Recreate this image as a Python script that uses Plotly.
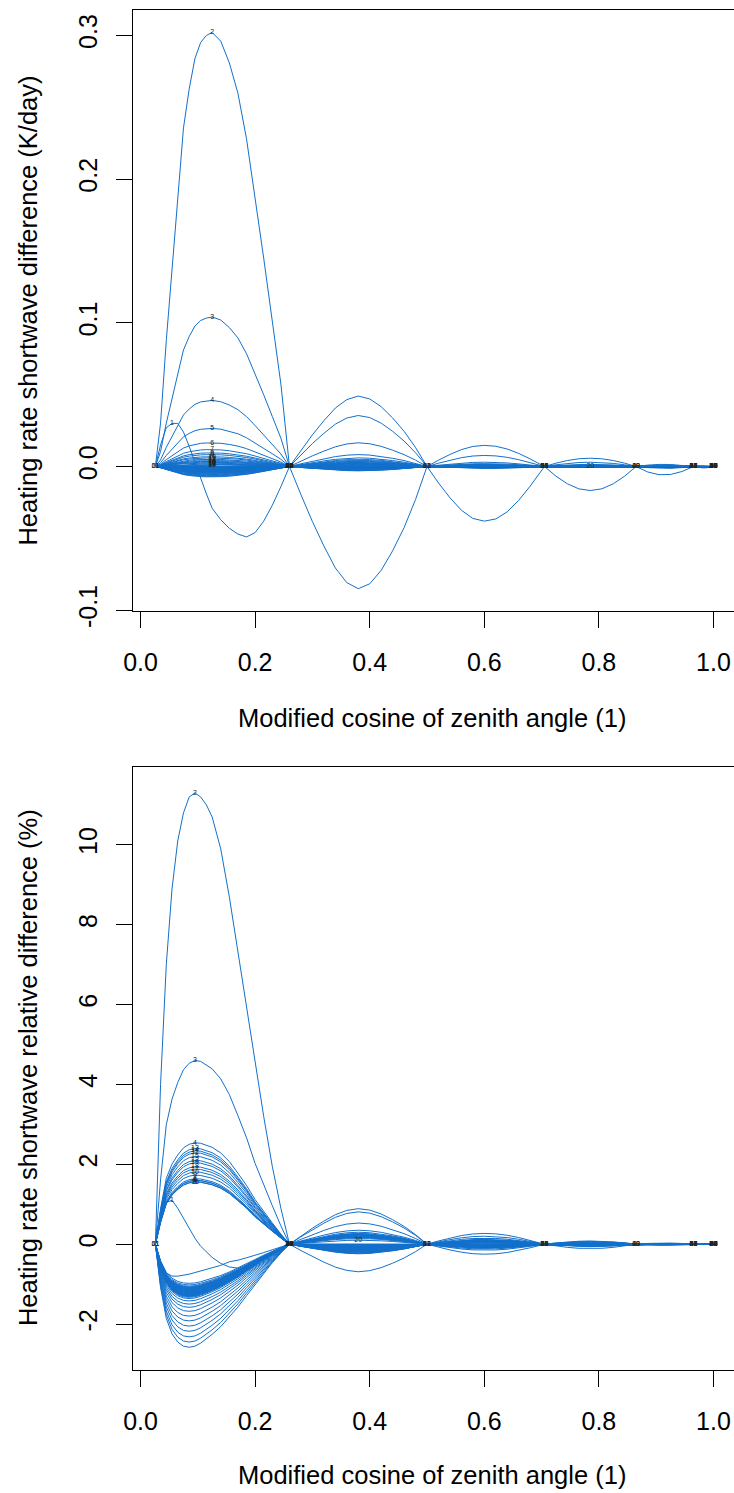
import plotly.graph_objects as go

# ---------------- data ----------------
# sampling of the modified cosine of zenith angle, per interval between nodes
SEG_X = [
    [0.026, 0.035, 0.045, 0.055, 0.065, 0.075, 0.085, 0.095, 0.105, 0.115,
     0.125, 0.14, 0.155, 0.17, 0.185, 0.2, 0.215, 0.23, 0.245, 0.26],
    [0.28, 0.30, 0.32, 0.34, 0.36, 0.38, 0.40, 0.42, 0.44, 0.46, 0.48, 0.5],
    [0.52, 0.54, 0.56, 0.58, 0.60, 0.62, 0.64, 0.66, 0.68, 0.705],
    [0.725, 0.745, 0.765, 0.785, 0.805, 0.825, 0.845, 0.865],
    [0.885, 0.905, 0.925, 0.945, 0.965],
    [0.975, 0.9825, 0.99, 1.0],
]
NODE_X = [0.026, 0.26, 0.5, 0.705, 0.865, 0.965, 1.0]

# normalised arc shapes in each interval
SHAPE_TOP_1 = [0, 0.10, 0.29, 0.46, 0.63, 0.78, 0.87, 0.94, 0.977, 0.993,
               1.0, 0.98, 0.93, 0.86, 0.755, 0.62, 0.48, 0.335, 0.19, 0]
SHAPE_BOT_1_POS = [0, 0.35, 0.65, 0.79, 0.88, 0.95, 0.985, 1.0, 0.995, 0.975,
                   0.955, 0.9, 0.815, 0.7, 0.58, 0.44, 0.32, 0.21, 0.1, 0]
SHAPE_BOT_1_NEG = [0, 0.42, 0.72, 0.87, 0.95, 0.99, 1.0, 0.99, 0.96, 0.92,
                   0.875, 0.8, 0.71, 0.61, 0.5, 0.39, 0.28, 0.18, 0.085, 0]
SHAPE_2 = [0.23, 0.45, 0.65, 0.83, 0.95, 1.0, 0.96, 0.85, 0.69, 0.5, 0.27, 0]
SHAPE_3 = [0.3, 0.57, 0.8, 0.95, 1.0, 0.96, 0.83, 0.62, 0.36, 0]
SHAPE_4 = [0.4, 0.72, 0.93, 1.0, 0.93, 0.72, 0.4, 0]
SHAPE_5 = [0.65, 0.98, 0.95, 0.6, 0]
SHAPE_6 = [0.8, 1.0, 0.75, 0]

CURVE_IDS = list(range(1, 62))

# curves drawn point by point in the first interval
TOP_C1_SEG1 = [0, 0.015, 0.027, 0.030, 0.030, 0.024, 0.014, 0.003, -0.009, -0.019,
               -0.029, -0.037, -0.043, -0.047, -0.049, -0.046, -0.038, -0.027, -0.014, 0]
BOT_C1_SEG1 = [0, 0.6, 1.05, 1.1, 0.9, 0.65, 0.4, 0.15, -0.05, -0.2,
               -0.33, -0.48, -0.57, -0.6, -0.58, -0.5, -0.38, -0.25, -0.12, 0]
BOT_C2_SEG1 = [0, 4.0, 7.0, 8.9, 10.1, 10.8, 11.2, 11.3, 11.2, 11.0,
               10.7, 9.9, 8.7, 7.3, 6.0, 4.6, 3.2, 1.95, 0.9, 0]
BOT_C20_SEG1 = [0, -0.45, -0.72, -0.8, -0.8, -0.78, -0.75, -0.71, -0.67, -0.63,
                -0.59, -0.53, -0.44, -0.4, -0.34, -0.28, -0.21, -0.14, -0.07, 0]

# extreme value of every curve in each interval (K/day), curves 1..61
TOP_AMP_1 = [None, 0.302, 0.104, 0.046, 0.0265, 0.0165, 0.0118, 0.0095, 0.0083, 0.0068,
             0.006, 0.005, 0.0042, 0.0036, 0.003, 0.0024, 0.0019, 0.0014, 0.001, -0.0005,
             -0.0072, -0.0068, -0.0064, -0.006, -0.0056, -0.0052, -0.0048, -0.0045, -0.0042, -0.004,
             -0.0038, -0.0036, -0.0034, -0.0032, -0.003, -0.0028, -0.0026, -0.0024, -0.0022, -0.002,
             -0.0019, -0.0018, -0.0017, -0.0016, -0.0015, -0.0014, -0.0013, -0.0012, -0.0011, -0.001,
             -0.0009, -0.0008, -0.0007, -0.0006, -0.0005, -0.0004, -0.0003, -0.0003, -0.0002, -0.0002,
             -0.0001]
TOP_AMP_2 = [-0.085, 0.049, 0.0355, 0.0165, 0.0083, 0.006, 0.005, 0.0043, 0.0037, 0.0032,
             0.0028, 0.0025, 0.0022, 0.002, 0.0018, 0.0015, 0.0012, 0.001, 0.0008, 0.0,
             -0.003, -0.0028, -0.0026, -0.0024, -0.0022, -0.002, -0.0019, -0.0018, -0.0017, -0.0016,
             -0.0015, -0.0014, -0.0013, -0.0012, -0.0011, -0.001, -0.0009, -0.0008, -0.0007, -0.0006,
             -0.0005, -0.0005, -0.0004, -0.0004, -0.0003, -0.0003, -0.0003, -0.0002, -0.0002, -0.0002,
             -0.0001, -0.0001, -0.0001, -0.0001, 0.0, 0.0, 0.0, 0.0, 0.0, 0.0,
             0.0]
TOP_AMP_3 = [-0.038, 0.0147, 0.0077, 0.003, 0.002, 0.0015, 0.0013, 0.0011, 0.001, 0.0009,
             0.0008, 0.0007, 0.0006, 0.0005, 0.0004, 0.0004, 0.0003, 0.0003, 0.0002, 0.0,
             -0.0012, -0.0011, -0.001, -0.0009, -0.0008, -0.0008, -0.0007, -0.0007, -0.0006, -0.0006,
             -0.0006, -0.0005, -0.0005, -0.0005, -0.0005, -0.0004, -0.0004, -0.0004, -0.0004, -0.0004,
             -0.0003, -0.0003, -0.0003, -0.0003, -0.0003, -0.0003, -0.0002, -0.0002, -0.0002, -0.0002,
             -0.0002, -0.0002, -0.0001, -0.0001, -0.0001, -0.0001, -0.0001, 0.0, 0.0, 0.0,
             0.0]
TOP_AMP_4 = [-0.0167, 0.0058, 0.003, 0.0015, 0.001, 0.0008, 0.0007, 0.0006, 0.0005, 0.0005,
             0.0004, 0.0004, 0.0003, 0.0003, 0.0002, 0.0002, 0.0002, 0.0001, 0.0001, 0.0003,
             -0.0006, -0.0005, -0.0005, -0.0004, -0.0004, -0.0003, -0.0003, -0.0003, -0.0002, -0.0002,
             -0.0002, -0.0002, -0.0002, -0.0002, -0.0001, -0.0001, -0.0001, -0.0001, -0.0001, -0.0001,
             -0.0001, -0.0001, -0.0001, -0.0001, -0.0001, -0.0001, 0.0, 0.0, 0.0, 0.0,
             0.0, 0.0, 0.0, 0.0, 0.0, 0.0, 0.0, 0.0, 0.0, 0.0,
             0.0]
TOP_AMP_5 = [-0.0058, 0.0015, 0.001, 0.0006, 0.0004, 0.0004, 0.0003, 0.0003, 0.0003, 0.0002,
             0.0002, 0.0002, 0.0002, 0.0001, 0.0001, 0.0001, 0.0001, 0.0001, 0.0001, 0.0001,
             -0.0012, -0.001, -0.0009, -0.0008, -0.0007, -0.0006, -0.0005, -0.0005, -0.0004, -0.0004,
             -0.0003, -0.0003, -0.0003, -0.0002, -0.0002, -0.0002, -0.0001, -0.0001, -0.0001, -0.0001,
             -0.0001, -0.0001, 0.0, 0.0, 0.0, 0.0, 0.0, 0.0, 0.0, 0.0,
             0.0, 0.0, 0.0, 0.0, 0.0, 0.0, 0.0, 0.0, 0.0, 0.0,
             0.0]
TOP_AMP_6 = [-0.001, 0.0004, 0.0002, 0.0001, 0.0, 0.0, 0.0, 0.0, 0.0, 0.0,
             0.0, 0.0, 0.0, 0.0, 0.0, 0.0, 0.0, 0.0, 0.0, 0.0,
             -0.0002, -0.0002, -0.0001, -0.0001, -0.0001, 0.0, 0.0, 0.0, 0.0, 0.0,
             0.0, 0.0, 0.0, 0.0, 0.0, 0.0, 0.0, 0.0, 0.0, 0.0,
             0.0, 0.0, 0.0, 0.0, 0.0, 0.0, 0.0, 0.0, 0.0, 0.0,
             0.0, 0.0, 0.0, 0.0, 0.0, 0.0, 0.0, 0.0, 0.0, 0.0,
             0.0]

# extreme value of every curve in each interval (%), curves 1..61
BOT_AMP_1 = [None, None, 4.6, 2.54, 1.56, 1.6, 1.64, 1.6, 1.73, 1.81,
             2.29, 2.1, 2.4, 2.34, 2.2, 1.56, 1.88, 1.94, 2.04, None,
             -2.58, -2.45, -2.32, -2.18, -2.05, -1.92, -1.8, -1.68, -1.58, -1.5,
             -1.42, -1.36, -1.33, -1.31, -1.3, -1.29, -1.28, -1.27, -1.26, -1.25,
             -1.24, -1.23, -1.22, -1.21, -1.2, -1.19, -1.18, -1.17, -1.16, -1.15,
             -1.14, -1.13, -1.12, -1.11, -1.1, -1.09, -1.08, -1.07, -1.05, -1.02,
             -0.98]
BOT_AMP_2 = [-0.69, 0.89, 0.81, 0.53, 0.35, 0.3, 0.27, 0.26, 0.25, 0.24,
             0.23, 0.22, 0.21, 0.2, 0.19, 0.18, 0.17, 0.16, 0.14, 0.1,
             -0.24, -0.23, -0.22, -0.21, -0.2, -0.2, -0.19, -0.19, -0.18, -0.18,
             -0.17, -0.17, -0.16, -0.16, -0.15, -0.15, -0.14, -0.14, -0.13, -0.13,
             -0.12, -0.12, -0.11, -0.11, -0.1, -0.1, -0.09, -0.09, -0.08, -0.08,
             -0.07, -0.07, -0.06, -0.05, -0.04, -0.03, -0.02, -0.02, -0.01, -0.01,
             0.0]
BOT_AMP_3 = [-0.25, 0.27, 0.2, 0.15, 0.12, 0.11, 0.1, 0.1, 0.09, 0.09,
             0.08, 0.08, 0.07, 0.07, 0.06, 0.06, 0.05, 0.05, 0.04, 0.03,
             -0.15, -0.12, -0.1, -0.09, -0.08, -0.08, -0.07, -0.07, -0.06, -0.06,
             -0.06, -0.05, -0.05, -0.05, -0.05, -0.04, -0.04, -0.04, -0.04, -0.04,
             -0.03, -0.03, -0.03, -0.03, -0.03, -0.03, -0.02, -0.02, -0.02, -0.02,
             -0.02, -0.02, -0.01, -0.01, -0.01, -0.01, -0.01, 0.0, 0.0, 0.0,
             0.0]
BOT_AMP_4 = [-0.11, 0.08, 0.07, 0.05, 0.04, 0.04, 0.035, 0.035, 0.03, 0.03,
             0.03, 0.025, 0.025, 0.02, 0.02, 0.02, 0.015, 0.015, 0.01, 0.01,
             -0.06, -0.05, -0.05, -0.04, -0.04, -0.04, -0.035, -0.035, -0.03, -0.03,
             -0.03, -0.03, -0.025, -0.025, -0.025, -0.02, -0.02, -0.02, -0.02, -0.02,
             -0.015, -0.015, -0.015, -0.015, -0.01, -0.01, -0.01, -0.01, -0.01, -0.005,
             -0.005, -0.005, -0.005, -0.005, 0.0, 0.0, 0.0, 0.0, 0.0, 0.0,
             0.0]
BOT_AMP_5 = [-0.03, 0.03, 0.02, 0.015, 0.01, 0.01, 0.01, 0.01, 0.01, 0.01,
             0.01, 0.01, 0.005, 0.005, 0.005, 0.005, 0.005, 0.005, 0.005, 0.005,
             -0.015, -0.01, -0.01, -0.01, -0.01, -0.01, -0.01, -0.01, -0.01, -0.01,
             -0.01, -0.005, -0.005, -0.005, -0.005, -0.005, -0.005, -0.005, -0.005, -0.005,
             -0.005, -0.005, -0.005, -0.005, -0.005, -0.005, 0.0, 0.0, 0.0, 0.0,
             0.0, 0.0, 0.0, 0.0, 0.0, 0.0, 0.0, 0.0, 0.0, 0.0,
             0.0]
BOT_AMP_6 = [-0.01, 0.01, 0.005, 0.0, 0.0, 0.0, 0.0, 0.0, 0.0, 0.0,
             0.0, 0.0, 0.0, 0.0, 0.0, 0.0, 0.0, 0.0, 0.0, 0.0,
             -0.005, -0.005, 0.0, 0.0, 0.0, 0.0, 0.0, 0.0, 0.0, 0.0,
             0.0, 0.0, 0.0, 0.0, 0.0, 0.0, 0.0, 0.0, 0.0, 0.0,
             0.0, 0.0, 0.0, 0.0, 0.0, 0.0, 0.0, 0.0, 0.0, 0.0,
             0.0, 0.0, 0.0, 0.0, 0.0, 0.0, 0.0, 0.0, 0.0, 0.0,
             0.0]

# node at which the label of curves 21..61 sits (their maximum is a zero node)
TOP_LABEL_NODE = [0, 1, 6, 1, 5, 1, 6, 3, 1, 6, 2, 1, 6, 5, 1, 3, 6, 4, 1, 6, 5,
                  2, 1, 6, 3, 5, 6, 1, 4, 6, 3, 5, 6, 1, 2, 6, 5, 3, 6, 4, 0]
BOT_LABEL_NODE = [0, 1, 6, 1, 5, 1, 6, 3, 1, 6, 2, 1, 6, 5, 1, 3, 6, 4, 1, 6, 5,
                  2, 1, 6, 3, 5, 6, 1, 4, 6, 3, 5, 6, 1, 2, 6, 5, 3, 6, 4, 0]

X_TICKS = [0.0, 0.2, 0.4, 0.6, 0.8, 1.0]
X_TICK_TEXT = ["0.0", "0.2", "0.4", "0.6", "0.8", "1.0"]
Y_TICKS_TOP = [-0.1, 0.0, 0.1, 0.2, 0.3]
Y_TICK_TEXT_TOP = ["-0.1", "0.0", "0.1", "0.2", "0.3"]
Y_TICKS_BOT = [-2, 0, 2, 4, 6, 8, 10]
Y_TICK_TEXT_BOT = ["-2", "0", "2", "4", "6", "8", "10"]

X_TITLE = "Modified cosine of zenith angle (1)"
Y_TITLE_TOP = "Heating rate shortwave difference (K/day)"
Y_TITLE_BOT = "Heating rate shortwave relative difference (%)"

LINE_COLOR = "#1270CC"
FONT = "Liberation Sans, Arial, Helvetica, sans-serif"

# ---------------- build curves ----------------
X_ALL = [x for seg in SEG_X for x in seg]
LATER_SHAPES = [SHAPE_2, SHAPE_3, SHAPE_4, SHAPE_5, SHAPE_6]


def build_panel(amps, explicit, shape1_pos, shape1_neg, label_nodes):
    curves, labels = [], []
    for i, cid in enumerate(CURVE_IDS):
        if cid in explicit:
            y = list(explicit[cid])
        else:
            a = amps[0][i]
            shp = shape1_pos if a >= 0 else shape1_neg
            y = [a * s for s in shp]
        for k, shp in enumerate(LATER_SHAPES):
            y += [amps[k + 1][i] * s for s in shp]
        curves.append(y)
        j = max(range(len(y)), key=lambda t: y[t])
        if y[j] > 0:
            labels.append((X_ALL[j], y[j], str(cid)))
        else:
            node = label_nodes[i - 20] if i >= 20 else 0
            labels.append((NODE_X[node], 0.0, str(cid)))
    return curves, labels


top_amps = [TOP_AMP_1, TOP_AMP_2, TOP_AMP_3, TOP_AMP_4, TOP_AMP_5, TOP_AMP_6]
bot_amps = [BOT_AMP_1, BOT_AMP_2, BOT_AMP_3, BOT_AMP_4, BOT_AMP_5, BOT_AMP_6]
top_curves, top_labels = build_panel(top_amps, {1: TOP_C1_SEG1},
                                     SHAPE_TOP_1, SHAPE_TOP_1, TOP_LABEL_NODE)
bot_curves, bot_labels = build_panel(bot_amps, {1: BOT_C1_SEG1, 2: BOT_C2_SEG1, 20: BOT_C20_SEG1},
                                     SHAPE_BOT_1_POS, SHAPE_BOT_1_NEG, BOT_LABEL_NODE)

fig = go.Figure()
for curves, labels, xa, ya in [(top_curves, top_labels, "x", "y"),
                               (bot_curves, bot_labels, "x2", "y2")]:
    for y in curves:
        fig.add_trace(go.Scatter(x=X_ALL, y=y, mode="lines", xaxis=xa, yaxis=ya,
                                 line=dict(color=LINE_COLOR, width=1),
                                 showlegend=False, hoverinfo="skip"))
    fig.add_trace(go.Scatter(x=[l[0] for l in labels], y=[l[1] for l in labels],
                             text=[l[2] for l in labels], mode="text", xaxis=xa, yaxis=ya,
                             textposition="middle center",
                             textfont=dict(size=7, color="#222222", family=FONT),
                             showlegend=False, hoverinfo="skip"))

axis_common = dict(showgrid=False, zeroline=False, showline=True, linecolor="black",
                   linewidth=1.2, ticks="outside", ticklen=16, tickwidth=1.2,
                   tickcolor="black", tickfont=dict(size=25, color="black", family=FONT))

TITLE_FONT = dict(size=25.5, color="black", family=FONT)

fig.update_layout(
    width=734, height=1493, template="none",
    paper_bgcolor="white", plot_bgcolor="white",
    margin=dict(l=133, r=0, t=10, b=123),
    font=dict(family=FONT, color="black"),
    xaxis=dict(domain=[0, 1], anchor="y", range=[-0.0131, 1.0358], mirror=True,
               tickvals=X_TICKS, ticktext=X_TICK_TEXT, ticklabelstandoff=13, **axis_common),
    yaxis=dict(domain=[0.5581, 1], anchor="x", range=[-0.1005, 0.3176], tickangle=-90,
               tickvals=Y_TICKS_TOP, ticktext=Y_TICK_TEXT_TOP, ticklabelstandoff=9, **axis_common),
    xaxis2=dict(domain=[0, 1], anchor="y2", range=[-0.0131, 1.0358], mirror=True,
                tickvals=X_TICKS, ticktext=X_TICK_TEXT, ticklabelstandoff=13, **axis_common),
    yaxis2=dict(domain=[0, 0.4434], anchor="x2", range=[-3.15, 11.95], tickangle=-90,
                tickvals=Y_TICKS_BOT, ticktext=Y_TICK_TEXT_BOT, ticklabelstandoff=9, **axis_common),
    annotations=[
        dict(text=X_TITLE, xref="paper", yref="paper", x=0.498, y=0.4794,
             showarrow=False, xanchor="center", yanchor="middle", font=TITLE_FONT),
        dict(text=X_TITLE, xref="paper", yref="paper", x=0.498, y=-0.0772,
             showarrow=False, xanchor="center", yanchor="middle", font=TITLE_FONT),
        dict(text=Y_TITLE_TOP, xref="paper", yref="paper", x=-0.1747, y=0.779,
             showarrow=False, xanchor="center", yanchor="middle", textangle=-90, font=TITLE_FONT),
        dict(text=Y_TITLE_BOT, xref="paper", yref="paper", x=-0.1747, y=0.222,
             showarrow=False, xanchor="center", yanchor="middle", textangle=-90, font=TITLE_FONT),
    ],
)

fig.write_html("out.html")
